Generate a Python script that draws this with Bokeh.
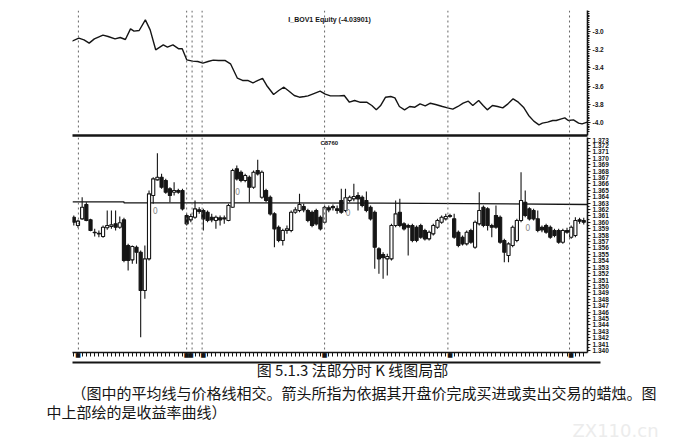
from bokeh.plotting import figure
from bokeh.layouts import column
from bokeh.models import Range1d, FixedTicker, Span, Label, PrintfTickFormatter
from bokeh.embed import file_html
from bokeh.resources import INLINE
from bokeh.core.properties import value

# ---------------- data ----------------
opens = [1.36080,1.35950,1.36054,1.36278,1.36038,1.35846,1.35820,1.35778,1.35914,1.35934,
         1.35976,1.35924,1.36038,1.35638,1.35414,1.35612,1.35534,1.34936,1.35430,1.36418,
         1.36662,1.36704,1.36652,1.36522,1.36470,1.36496,1.36496,1.36106,1.36038,1.36080,
         1.36194,1.36184,1.36158,1.36080,1.36028,1.36070,1.36054,1.36028,1.36236,1.36834,
         1.36782,1.36652,1.36704,1.36548,1.36808,1.36392,1.36496,1.36392,1.36132,1.35924,
         1.35716,1.35872,1.35872,1.36158,1.36184,1.36246,1.36184,1.36158,1.36184,1.36080,
         1.36002,1.36226,1.36246,1.36210,1.36340,1.36184,1.36340,1.36366,1.36418,1.36392,
         1.36340,1.36236,1.36158,1.35586,1.35498,1.35430,1.35430,1.35950,1.36158,1.35976,
         1.35950,1.35950,1.35924,1.35950,1.35872,1.35742,1.35820,1.35924,1.36002,1.36054,
         1.36090,1.36054,1.35846,1.35768,1.35664,1.35872,1.35612,1.35976,1.36236,1.36210,
         1.35950,1.36106,1.36080,1.35716,1.35482,1.35638,1.35716,1.36028,1.36314,1.36210,
         1.36184,1.36054,1.35924,1.35950,1.35924,1.35872,1.35872,1.35690,1.35872,1.35768,
         1.35794,1.36038,1.36028]
highs = [1.36106,1.36038,1.36392,1.36314,1.36054,1.35898,1.35872,1.35950,1.36184,1.36184,
         1.36184,1.36090,1.36070,1.35664,1.35638,1.35638,1.35560,1.35638,1.36496,1.36704,
         1.37078,1.36756,1.36678,1.36548,1.36626,1.36522,1.36522,1.36132,1.36132,1.36340,
         1.36236,1.36210,1.36184,1.36132,1.36106,1.36106,1.36106,1.36288,1.36834,1.36886,
         1.36808,1.36756,1.36730,1.36808,1.36974,1.36808,1.36522,1.36418,1.36158,1.35950,
         1.35898,1.35950,1.36184,1.36236,1.36444,1.36288,1.36210,1.36184,1.36210,1.36106,
         1.36262,1.36262,1.36278,1.36262,1.36522,1.36522,1.36418,1.36600,1.36470,1.36418,
         1.36480,1.36262,1.36184,1.35612,1.35534,1.35508,1.35976,1.36340,1.36366,1.36002,
         1.35976,1.35976,1.35950,1.35976,1.35898,1.35872,1.35976,1.36054,1.36106,1.36132,
         1.36132,1.36132,1.35872,1.35794,1.35872,1.35898,1.36028,1.36470,1.36262,1.36236,
         1.35976,1.36262,1.36106,1.35742,1.35690,1.35950,1.36054,1.36782,1.36496,1.36236,
         1.36210,1.36184,1.35950,1.35976,1.35950,1.35898,1.35898,1.35898,1.35914,1.35950,
         1.36080,1.36070,1.36070]
lows = [1.35950,1.35914,1.36038,1.36018,1.35862,1.35778,1.35768,1.35758,1.35882,1.35898,
        1.35872,1.35898,1.35378,1.35248,1.35352,1.35352,1.34208,1.34806,1.35404,1.36288,
        1.36652,1.36522,1.36444,1.36314,1.36418,1.36444,1.36184,1.35950,1.36002,1.36054,
        1.36132,1.35872,1.36002,1.36002,1.35898,1.35950,1.35976,1.36018,1.36226,1.36652,
        1.36626,1.36626,1.36314,1.36522,1.36730,1.36366,1.36314,1.36106,1.35612,1.35690,
        1.35638,1.35820,1.35846,1.36132,1.36158,1.36158,1.36002,1.35924,1.35950,1.35872,
        1.35976,1.36158,1.36184,1.36132,1.36132,1.36158,1.36314,1.36330,1.36184,1.36236,
        1.36158,1.36028,1.35274,1.35196,1.35118,1.35170,1.35404,1.35924,1.35924,1.35872,
        1.35482,1.35690,1.35690,1.35742,1.35716,1.35716,1.35794,1.35898,1.35976,1.36028,
        1.36070,1.35742,1.35612,1.35638,1.35638,1.35664,1.35586,1.35950,1.35924,1.35872,
        1.35768,1.35898,1.35664,1.35378,1.35378,1.35612,1.35690,1.36002,1.36080,1.36028,
        1.36028,1.35846,1.35846,1.35820,1.35742,1.35768,1.35664,1.35664,1.35820,1.35742,
        1.35768,1.35976,1.35966]
closes = [1.36002,1.36018,1.36236,1.36028,1.35872,1.35836,1.35830,1.35924,1.35950,1.35960,
          1.35924,1.35992,1.35404,1.35404,1.35622,1.35534,1.34936,1.35430,1.36444,1.36678,
          1.36704,1.36548,1.36470,1.36418,1.36496,1.36470,1.36210,1.35976,1.36090,1.36210,
          1.36168,1.36054,1.36028,1.36038,1.36080,1.36038,1.36070,1.36262,1.36808,1.36678,
          1.36652,1.36730,1.36548,1.36782,1.36756,1.36782,1.36340,1.36132,1.35898,1.35716,
          1.35872,1.35898,1.36158,1.36194,1.36278,1.36194,1.36028,1.35950,1.35976,1.35898,
          1.36236,1.36194,1.36226,1.36184,1.36158,1.36382,1.36392,1.36402,1.36366,1.36262,
          1.36184,1.36054,1.35612,1.35430,1.35446,1.35466,1.35950,1.36132,1.35950,1.35898,
          1.35924,1.35716,1.35716,1.35768,1.35742,1.35846,1.35950,1.36028,1.36080,1.36090,
          1.36106,1.35768,1.35638,1.35664,1.35846,1.35690,1.36002,1.36184,1.35950,1.35950,
          1.35924,1.35924,1.35690,1.35534,1.35664,1.35924,1.36028,1.36340,1.36106,1.36054,
          1.36054,1.35872,1.35882,1.35846,1.35768,1.35794,1.35690,1.35872,1.35846,1.35924,
          1.36028,1.36018,1.36002]

# average price line (平均线)
ma_x = [-0.31, 12.0, 12.0, 74.0, 122.9]
ma_y = [1.36319, 1.36319, 1.36304, 1.36300, 1.36278]

# equity curve (收益率曲线), bar index / value
eq_x = [-0.44,1.20,2.44,3.68,4.92,6.98,8.21,9.86,11.10,12.34,
        13.57,14.40,15.64,17.12,18.27,19.59,21.41,22.40,23.72,25.12,
        25.94,27.02,28.42,29.65,30.89,32.13,33.36,34.60,36.25,37.49,
        39.14,40.37,41.61,42.85,44.08,45.16,46.15,47.80,49.03,50.27,
        51.51,52.74,53.98,55.22,56.04,57.28,58.93,60.16,61.40,63.46,
        64.70,65.94,67.17,68.41,70.06,71.30,72.37,73.36,74.59,75.83,
        76.82,77.89,79.13,80.37,81.60,82.84,84.08,85.31,86.55,88.20,
        89.44,90.67,91.91,93.15,94.39,95.46,96.86,97.93,98.92,100.16,
        101.39,102.63,103.87,105.10,106.34,107.58,108.82,110.05,111.29,112.11,
        113.35,114.59,115.41,116.65,117.47,118.30,119.54,120.77,121.60,122.83]
eq_y = [-3.106,-3.073,-3.092,-3.128,-3.081,-3.040,-3.055,-3.081,-3.066,-3.088,
        -2.971,-2.996,-2.989,-2.872,-2.982,-3.201,-3.147,-3.172,-3.147,-3.190,
        -3.190,-3.311,-3.326,-3.330,-3.348,-3.330,-3.315,-3.319,-3.319,-3.355,
        -3.513,-3.538,-3.538,-3.564,-3.538,-3.516,-3.593,-3.692,-3.648,-3.612,
        -3.656,-3.703,-3.722,-3.714,-3.707,-3.685,-3.656,-3.689,-3.707,-3.707,
        -3.703,-3.777,-3.758,-3.777,-3.777,-3.813,-3.861,-3.817,-3.722,-3.714,
        -3.729,-3.824,-3.861,-3.824,-3.832,-3.795,-3.817,-3.788,-3.802,-3.824,
        -3.839,-3.853,-3.824,-3.788,-3.766,-3.813,-3.758,-3.813,-3.861,-3.813,
        -3.824,-3.839,-3.795,-3.740,-3.777,-3.832,-3.923,-3.985,-4.026,-4.007,
        -3.996,-3.978,-3.978,-3.960,-3.949,-3.978,-3.971,-4.007,-4.015,-3.996]

session_breaks = [1.1, 27.0, 28.3, 30.7, 60.0, 89.5, 118.6]
session_bars = [1, 27, 28, 31, 60, 90, 119]

# entry arrows (open-price signals)
sig_x = [19.5, 39.2, 65.6, 108.6]
sig_y = [1.36184, 1.36486, 1.36158, 1.35924]

eq_ticks = [-4.0, -3.8, -3.6, -3.4, -3.2, -3.0]
price_ticks = [1.340, 1.341, 1.342, 1.343, 1.344, 1.345, 1.346, 1.347, 1.348, 1.349,
               1.350, 1.351, 1.352, 1.353, 1.354, 1.355, 1.356, 1.357, 1.358, 1.359,
               1.360, 1.361, 1.362, 1.363, 1.364, 1.365, 1.366, 1.367, 1.368, 1.369,
               1.370, 1.371, 1.372, 1.373]

equity_title = "I_BOV1 Equity (-4.03901)"
symbol_label = "C8760"
caption1 = "图 5.1.3    法郎分时 K 线图局部"
caption2 = "（图中的平均线与价格线相交。箭头所指为依据其开盘价完成买进或卖出交易的蜡烛。图"
caption3 = "中上部绘的是收益率曲线）"

# ---------------- styling helpers ----------------
INK = "#151515"
XR = (-0.31, 122.9)
AX_FONT = "Liberation Sans"
TOTAL_W = 678
LEFT_B = 72
FRAME_W = 515
RIGHT_B = TOTAL_W - LEFT_B - FRAME_W


def make_fig(frame_h, yr, top_border, bottom_border):
    p = figure(frame_width=FRAME_W, frame_height=frame_h,
               x_range=Range1d(*XR), y_range=Range1d(*yr),
               output_backend="svg", toolbar_location=None,
               y_axis_location="right",
               min_border_left=LEFT_B, min_border_right=RIGHT_B,
               min_border_top=top_border, min_border_bottom=bottom_border)
    p.grid.grid_line_color = None
    p.outline_line_color = None
    p.background_fill_color = "white"
    p.border_fill_color = "white"
    for s in session_breaks:
        p.add_layout(Span(location=s, dimension="height", line_color="#666666",
                          line_dash="2 3", line_width=1))
    ya = p.yaxis[0]
    ya.axis_line_color = INK
    ya.axis_line_width = 1.6
    ya.major_tick_line_color = INK
    ya.minor_tick_line_color = INK
    ya.major_tick_in = 0
    ya.major_tick_out = 3
    ya.minor_tick_in = 0
    ya.minor_tick_out = 2
    ya.major_label_text_font = AX_FONT
    ya.major_label_text_font_style = "bold"
    ya.major_label_text_font_size = "6.5px"
    ya.major_label_text_color = INK
    ya.major_label_standoff = 2
    return p


# ---------------- top: equity ----------------
top = make_fig(125, (-4.143, -2.769), 10, 2)
top.line(eq_x, eq_y, line_color=INK, line_width=1.4)
top.yaxis[0].ticker = FixedTicker(ticks=eq_ticks,
                                  minor_ticks=[-4.1 + 0.02 * i for i in range(68)])
top.yaxis[0].formatter = PrintfTickFormatter(format="%.1f")
xa = top.xaxis[0]
xa.axis_line_color = INK
xa.axis_line_width = 2.4
xa.major_tick_line_color = None
xa.minor_tick_line_color = None
xa.major_tick_in = 0
xa.major_tick_out = 0
xa.minor_tick_in = 0
xa.minor_tick_out = 0
xa.major_label_text_font_size = "1px"
xa.major_label_text_color = None
xa.major_label_standoff = 0
top.add_layout(Label(x=61.2, y=-2.769, text=equity_title, text_align="center",
                     text_baseline="top", y_offset=-5, text_font=AX_FONT,
                     text_font_size="7px", text_font_style="bold", text_color=INK))

# ---------------- bottom: candles ----------------
bot = make_fig(215, (1.33969, 1.37323), 0, 0)
bars = list(range(len(opens)))
body_top = [max(o, c) for o, c in zip(opens, closes)]
body_bot = [min(o, c) for o, c in zip(opens, closes)]
body_fill = [INK if c < o else "white" for o, c in zip(opens, closes)]
bot.line(ma_x, ma_y, line_color=INK, line_width=1.3)
bot.segment(x0=bars, y0=lows, x1=bars, y1=highs, line_color=INK, line_width=1.1)
bot.vbar(x=bars, width=0.75, top=body_top, bottom=body_bot,
         fill_color=body_fill, line_color=INK, line_width=1.1)
bot.text(x=sig_x, y=sig_y, text=["0"] * len(sig_x), text_color="#8a8a8a",
         text_font=value("DejaVu Sans"), text_font_size="8px",
         text_align="center", text_baseline="middle")
bot.yaxis[0].ticker = FixedTicker(ticks=price_ticks,
                                  minor_ticks=[1.3400 + 0.0005 * i for i in range(67)])
bot.yaxis[0].formatter = PrintfTickFormatter(format="%.3f")
bxa = bot.xaxis[0]
bxa.ticker = FixedTicker(ticks=bars)
bxa.axis_line_color = INK
bxa.axis_line_width = 1.5
bxa.major_tick_line_color = INK
bxa.major_tick_in = 0
bxa.major_tick_out = 4
bxa.minor_tick_line_color = None
bxa.major_label_overrides = {b: ("■" if b in session_bars else "") for b in bars}
bxa.major_label_text_font = "DejaVu Sans"
bxa.major_label_text_font_size = "6px"
bxa.major_label_text_color = INK
bxa.major_label_standoff = -6
bot.add_layout(Label(x=59.0, y=1.37323, text=symbol_label, text_align="left",
                     text_baseline="top", y_offset=-2, text_font=AX_FONT,
                     text_font_size="6px", text_font_style="bold", text_color=INK))

# ---------------- caption ----------------
CAP_H = 84
cap = figure(width=TOTAL_W, height=CAP_H, x_range=Range1d(0, TOTAL_W), y_range=Range1d(CAP_H, 0),
             output_backend="svg", toolbar_location=None, min_border=0,
             x_axis_location=None, y_axis_location=None)
try:
    cap.frame_align = False
except Exception:
    pass
cap.grid.grid_line_color = None
cap.outline_line_color = None
cap.segment(x0=[LEFT_B], y0=[2], x1=[600], y1=[2], line_color=INK, line_width=2)
CJK = "Noto Sans CJK SC"
cap.add_layout(Label(x=357, y=9, text=caption1, text_align="center", text_baseline="middle",
                     text_font=CJK, text_font_size="15px", text_color=INK))
cap.add_layout(Label(x=71, y=32, text=caption2, text_align="left", text_baseline="middle",
                     text_font=CJK, text_font_size="15px", text_color=INK))
cap.add_layout(Label(x=46, y=51, text=caption3, text_align="left", text_baseline="middle",
                     text_font=CJK, text_font_size="15px", text_color=INK))
cap.add_layout(Label(x=572, y=70, text="ZX110.cn", text_align="left", text_baseline="middle",
                     text_font="DejaVu Sans", text_font_size="18px", text_color="#ececec"))

layout = column(top, bot, cap)
open("out.html", "w").write(file_html(layout, INLINE))
